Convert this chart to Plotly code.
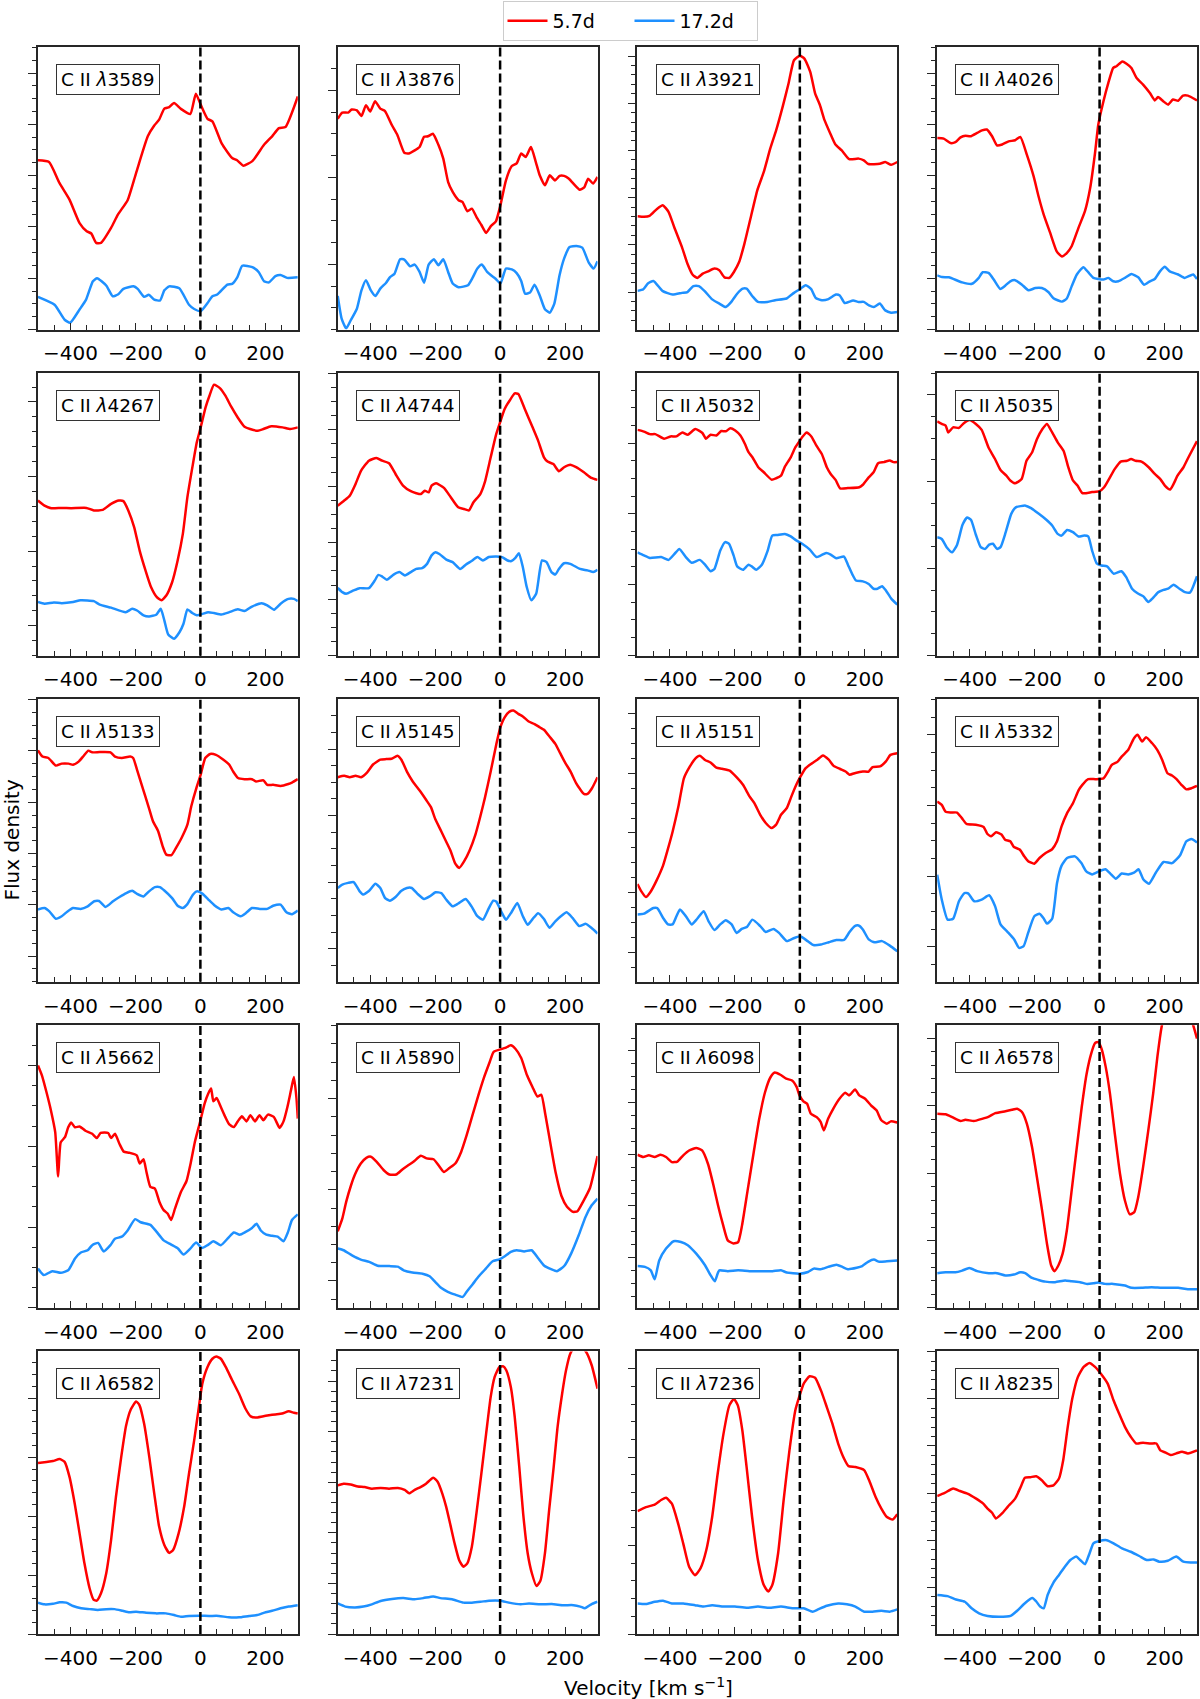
import plotly.graph_objects as go
from plotly.subplots import make_subplots

# ---------------- data (velocity km/s, normalised flux) ----------------
lines = [3589, 3876, 3921, 4026, 4267, 4744, 5032, 5035, 5133, 5145,
         5151, 5332, 5662, 5890, 6098, 6578, 6582, 7231, 7236, 8235]
epochs = ["5.7d", "17.2d"]

RED_3589 = [(-500,.599),(-466,.593),(-434,.519),(-403,.460),(-372,.377),(-350,.348),(-336,.340),(-321,.307),(-306,.307),(-275,.360),(-254,.407),(-224,.458),(-198,.554),(-162,.684),(-142,.722),(-127,.743),(-111,.782),(-96,.787),(-81,.802),(-60,.781),(-31,.763),(-14,.835),(1,.796),(22,.746),(37,.737),(66,.658),(98,.607),(113,.599),(132,.580),(160,.596),(196,.654),(221,.684),(242,.713),(262,.717),(300,.825)]
BLUE_3589 = [(-500,.116),(-449,.088),(-418,.035),(-401,.024),(-372,.071),(-352,.106),(-331,.171),(-318,.182),(-290,.156),(-270,.118),(-254,.124),(-237,.144),(-206,.153),(-193,.144),(-173,.116),(-159,.123),(-142,.106),(-124,.103),(-111,.139),(-96,.153),(-65,.146),(-35,.088),(-19,.073),(1,.065),(22,.094),(37,.118),(52,.124),(83,.159),(98,.162),(114,.186),(129,.226),(160,.221),(180,.203),(196,.171),(211,.167),(231,.189),(247,.193),(267,.183),(300,.185)]

RED_3876 = [(-500,.746),(-486,.768),(-468,.768),(-457,.779),(-441,.776),(-427,.756),(-413,.794),(-400,.772),(-385,.808),(-369,.782),(-355,.774),(-333,.723),(-316,.688),(-295,.626),(-281,.623),(-263,.634),(-248,.646),(-234,.682),(-222,.684),(-207,.693),(-190,.654),(-175,.605),(-160,.522),(-146,.487),(-128,.458),(-116,.452),(-101,.419),(-87,.428),(-73,.399),(-58,.371),(-43,.342),(-28,.367),(-13,.383),(1,.440),(18,.528),(36,.579),(51,.588),(65,.623),(79,.611),(95,.646),(110,.593),(122,.546),(138,.511),(153,.546),(169,.528),(183,.544),(197,.544),(212,.534),(230,.511),(245,.495),(259,.503),(271,.534),(286,.517),(300,.540)]
BLUE_3876 = [(-500,.119),(-488,.039),(-474,.004),(-460,.033),(-441,.074),(-427,.139),(-413,.175),(-398,.139),(-384,.119),(-369,.145),(-351,.166),(-339,.186),(-325,.198),(-308,.249),(-295,.248),(-277,.224),(-263,.230),(-248,.204),(-234,.166),(-220,.230),(-204,.249),(-190,.228),(-175,.249),(-160,.204),(-146,.163),(-128,.150),(-99,.157),(-85,.183),(-70,.216),(-56,.230),(-40,.204),(-28,.192),(-14,.180),(1,.163),(18,.216),(36,.213),(51,.200),(65,.172),(77,.127),(92,.131),(106,.159),(122,.121),(138,.072),(153,.060),(167,.092),(183,.192),(197,.251),(214,.292),(235,.296),(253,.290),(273,.237),(288,.216),(300,.242)]

RED_3921 = [(-500,.401),(-480,.399),(-463,.402),(-439,.428),(-422,.440),(-404,.416),(-387,.363),(-363,.292),(-346,.233),(-330,.194),(-316,.183),(-299,.198),(-283,.206),(-263,.216),(-248,.210),(-232,.185),(-217,.183),(-203,.204),(-187,.239),(-172,.298),(-152,.393),(-131,.493),(-111,.558),(-91,.641),(-73,.705),(-53,.788),(-35,.870),(-18,.953),(0,.969),(14,.959),(32,.912),(47,.836),(62,.794),(76,.741),(94,.693),(109,.656),(129,.634),(152,.603),(181,.605),(197,.599),(211,.586),(246,.587),(263,.593),(281,.583),(300,.593)]
BLUE_3921 = [(-500,.137),(-482,.143),(-468,.163),(-451,.172),(-422,.136),(-392,.124),(-363,.130),(-346,.133),(-328,.154),(-311,.154),(-293,.136),(-270,.107),(-248,.092),(-228,.080),(-211,.098),(-193,.127),(-176,.145),(-164,.145),(-146,.118),(-129,.098),(-100,.098),(-76,.104),(-41,.110),(-18,.130),(0,.143),(18,.157),(35,.143),(49,.112),(68,.104),(88,.108),(111,.124),(123,.121),(138,.094),(164,.103),(181,.098),(197,.098),(213,.086),(228,.080),(246,.092),(263,.068),(281,.060),(300,.062)]

RED_4026 = [(-500,.678),(-480,.676),(-459,.660),(-444,.663),(-428,.680),(-413,.686),(-398,.684),(-377,.696),(-362,.705),(-347,.708),(-331,.684),(-316,.652),(-300,.655),(-280,.666),(-260,.670),(-244,.682),(-224,.619),(-203,.542),(-188,.472),(-172,.407),(-152,.342),(-132,.277),(-116,.259),(-101,.271),(-86,.295),(-65,.360),(-45,.419),(-29,.501),(-14,.625),(-4,.725),(12,.808),(27,.873),(42,.926),(52,.932),(70,.949),(83,.941),(98,.926),(114,.890),(134,.867),(155,.837),(170,.811),(180,.823),(196,.808),(211,.796),(226,.814),(242,.810),(257,.828),(272,.828),(300,.811)]
BLUE_4026 = [(-500,.192),(-485,.186),(-464,.185),(-423,.167),(-393,.162),(-372,.183),(-360,.203),(-341,.200),(-326,.177),(-306,.144),(-290,.156),(-275,.171),(-260,.175),(-239,.159),(-219,.139),(-198,.147),(-178,.147),(-157,.132),(-142,.111),(-116,.099),(-101,.110),(-86,.153),(-70,.195),(-50,.221),(-35,.203),(-19,.183),(-4,.179),(12,.177),(27,.183),(42,.171),(58,.171),(78,.183),(98,.197),(119,.185),(137,.159),(155,.171),(170,.179),(186,.206),(201,.222),(216,.206),(242,.195),(262,.183),(288,.195),(300,.179)]

RED_4267 = [(-500,.549),(-480,.531),(-459,.522),(-427,.523),(-398,.522),(-351,.523),(-328,.514),(-301,.516),(-275,.537),(-251,.549),(-237,.547),(-222,.514),(-204,.455),(-187,.372),(-169,.302),(-152,.243),(-134,.207),(-120,.196),(-105,.213),(-87,.260),(-70,.337),(-54,.431),(-40,.561),(-23,.678),(-11,.755),(1,.808),(16,.879),(28,.920),(42,.959),(60,.947),(77,.920),(95,.881),(115,.843),(136,.810),(153,.802),(177,.796),(194,.802),(218,.812),(253,.808),(277,.802),(300,.808)]
BLUE_4267 = [(-500,.190),(-480,.184),(-451,.188),(-427,.186),(-392,.190),(-369,.196),(-328,.193),(-310,.181),(-275,.170),(-230,.154),(-210,.166),(-195,.160),(-175,.143),(-158,.139),(-136,.145),(-122,.166),(-111,.125),(-99,.075),(-81,.060),(-64,.084),(-52,.113),(-40,.164),(-25,.151),(-11,.143),(7,.148),(24,.154),(42,.151),(65,.146),(89,.154),(115,.164),(136,.158),(159,.174),(189,.186),(206,.178),(227,.163),(247,.184),(271,.201),(288,.201),(300,.193)]

RED_4744 = [(-500,.531),(-480,.549),(-463,.566),(-445,.608),(-428,.655),(-404,.690),(-381,.700),(-363,.690),(-342,.681),(-322,.643),(-299,.602),(-275,.582),(-258,.575),(-244,.572),(-232,.584),(-220,.578),(-211,.602),(-197,.610),(-173,.594),(-152,.561),(-129,.525),(-111,.519),(-96,.514),(-82,.543),(-61,.572),(-47,.614),(-29,.702),(-12,.784),(0,.826),(14,.873),(29,.902),(45,.928),(56,.926),(76,.873),(100,.808),(117,.761),(135,.702),(146,.687),(164,.678),(181,.653),(197,.667),(216,.676),(234,.667),(258,.649),(281,.629),(300,.622)]
BLUE_4744 = [(-500,.240),(-486,.225),(-474,.219),(-451,.231),(-433,.239),(-404,.239),(-386,.266),(-375,.286),(-363,.280),(-349,.269),(-328,.287),(-310,.296),(-293,.284),(-275,.296),(-258,.307),(-240,.310),(-225,.325),(-211,.355),(-199,.366),(-187,.360),(-164,.339),(-146,.331),(-123,.307),(-106,.322),(-88,.335),(-70,.349),(-53,.337),(-35,.349),(-12,.351),(6,.349),(23,.337),(35,.335),(47,.346),(58,.363),(70,.313),(82,.243),(96,.196),(111,.219),(129,.337),(143,.331),(158,.296),(170,.287),(181,.307),(197,.327),(216,.325),(246,.307),(269,.302),(287,.296),(300,.304)]

RED_5032 = [(-500,.799),(-480,.793),(-462,.784),(-445,.784),(-418,.768),(-398,.776),(-380,.776),(-362,.790),(-345,.782),(-322,.802),(-300,.788),(-289,.768),(-275,.782),(-257,.779),(-242,.795),(-228,.794),(-214,.805),(-199,.797),(-183,.779),(-169,.749),(-158,.720),(-146,.702),(-128,.667),(-111,.649),(-87,.623),(-73,.628),(-58,.637),(-46,.669),(-28,.702),(-14,.737),(1,.763),(7,.773),(21,.790),(36,.775),(51,.743),(68,.713),(83,.667),(95,.643),(110,.622),(124,.592),(148,.593),(183,.596),(194,.605),(212,.631),(227,.649),(241,.681),(259,.685),(277,.691),(288,.685),(300,.685)]
BLUE_5032 = [(-500,.366),(-480,.355),(-462,.346),(-427,.349),(-404,.339),(-386,.360),(-371,.378),(-351,.349),(-333,.329),(-308,.339),(-292,.322),(-275,.299),(-263,.307),(-245,.372),(-230,.402),(-218,.396),(-204,.355),(-193,.316),(-175,.304),(-158,.322),(-148,.316),(-134,.304),(-117,.322),(-99,.372),(-85,.425),(-70,.427),(-46,.431),(-28,.422),(-11,.408),(7,.396),(30,.376),(51,.349),(65,.355),(81,.363),(95,.358),(112,.345),(136,.351),(148,.322),(162,.287),(173,.266),(194,.263),(212,.254),(227,.237),(239,.237),(253,.246),(265,.231),(282,.201),(300,.181)]

RED_5035 = [(-500,.829),(-486,.820),(-474,.814),(-466,.790),(-451,.808),(-433,.806),(-419,.822),(-400,.834),(-381,.820),(-363,.799),(-342,.737),(-322,.696),(-305,.657),(-287,.637),(-275,.620),(-260,.610),(-240,.625),(-225,.690),(-208,.719),(-193,.766),(-176,.802),(-162,.820),(-146,.790),(-129,.755),(-111,.725),(-96,.666),(-82,.620),(-68,.602),(-53,.575),(-23,.579),(0,.582),(14,.596),(29,.625),(47,.661),(65,.687),(84,.690),(97,.696),(111,.690),(129,.687),(152,.666),(170,.643),(187,.625),(201,.602),(217,.588),(228,.608),(240,.637),(258,.666),(275,.705),(300,.759)]
BLUE_5035 = [(-500,.419),(-486,.413),(-471,.384),(-454,.366),(-439,.392),(-422,.463),(-408,.489),(-396,.481),(-381,.428),(-366,.384),(-352,.378),(-340,.393),(-328,.396),(-316,.378),(-305,.384),(-289,.437),(-272,.502),(-258,.525),(-228,.531),(-211,.522),(-187,.502),(-164,.481),(-146,.461),(-129,.431),(-117,.425),(-100,.445),(-82,.437),(-65,.422),(-47,.425),(-35,.422),(-23,.372),(-9,.327),(6,.319),(23,.316),(44,.290),(67,.299),(82,.278),(100,.237),(117,.221),(135,.210),(150,.190),(164,.204),(181,.225),(197,.233),(211,.237),(228,.251),(246,.237),(263,.225),(279,.224),(300,.281)]

RED_5133 = [(-500,.819),(-486,.797),(-468,.792),(-445,.765),(-427,.772),(-406,.772),(-392,.768),(-374,.780),(-359,.800),(-345,.818),(-333,.812),(-310,.813),(-277,.812),(-263,.797),(-242,.792),(-216,.797),(-207,.792),(-195,.750),(-179,.691),(-160,.621),(-146,.568),(-130,.533),(-116,.479),(-105,.450),(-89,.448),(-75,.474),(-58,.509),(-40,.556),(-28,.621),(-11,.691),(1,.733),(15,.792),(30,.806),(48,.803),(71,.786),(89,.768),(101,.744),(116,.721),(136,.717),(159,.717),(171,.709),(194,.713),(206,.697),(224,.697),(247,.693),(271,.700),(282,.705),(300,.717)]
BLUE_5133 = [(-500,.256),(-480,.261),(-465,.249),(-445,.223),(-427,.232),(-409,.249),(-392,.261),(-369,.258),(-347,.267),(-327,.285),(-312,.286),(-292,.265),(-269,.285),(-249,.300),(-228,.314),(-210,.322),(-195,.311),(-175,.302),(-158,.320),(-140,.335),(-125,.335),(-111,.323),(-87,.296),(-70,.269),(-55,.261),(-40,.275),(-23,.308),(-11,.320),(7,.311),(24,.292),(42,.272),(65,.256),(86,.261),(101,.246),(124,.232),(141,.244),(159,.261),(183,.258),(206,.258),(224,.269),(247,.273),(265,.246),(282,.239),(300,.252)]

RED_5145 = [(-500,.724),(-480,.729),(-463,.724),(-445,.729),(-428,.724),(-410,.740),(-392,.768),(-369,.786),(-351,.788),(-334,.789),(-316,.800),(-304,.786),(-287,.744),(-269,.709),(-246,.674),(-228,.644),(-213,.618),(-199,.574),(-181,.532),(-164,.491),(-152,.462),(-138,.418),(-126,.403),(-111,.426),(-94,.465),(-76,.521),(-61,.585),(-47,.650),(-29,.744),(-12,.839),(0,.898),(14,.936),(29,.956),(41,.960),(56,.948),(70,.939),(88,.921),(106,.912),(123,.900),(135,.892),(152,.868),(170,.842),(185,.809),(201,.774),(217,.744),(234,.703),(246,.682),(258,.665),(269,.665),(283,.685),(300,.724)]
BLUE_5145 = [(-500,.332),(-486,.344),(-468,.350),(-451,.353),(-433,.321),(-422,.309),(-404,.321),(-384,.347),(-369,.332),(-354,.296),(-340,.287),(-322,.300),(-305,.321),(-287,.332),(-272,.332),(-255,.312),(-234,.293),(-217,.302),(-199,.317),(-181,.314),(-166,.291),(-146,.267),(-129,.277),(-106,.293),(-88,.267),(-70,.232),(-53,.220),(-35,.260),(-21,.287),(-12,.284),(6,.243),(18,.220),(35,.246),(53,.279),(70,.232),(85,.202),(100,.222),(117,.243),(135,.222),(152,.191),(170,.214),(187,.232),(205,.246),(223,.226),(244,.197),(264,.205),(281,.191),(300,.171)]

RED_5151 = [(-500,.346),(-488,.320),(-474,.300),(-460,.318),(-441,.359),(-421,.412),(-406,.471),(-392,.530),(-374,.620),(-357,.720),(-339,.761),(-322,.790),(-308,.800),(-292,.785),(-275,.776),(-257,.758),(-240,.754),(-216,.747),(-195,.724),(-175,.697),(-155,.656),(-140,.632),(-122,.591),(-105,.562),(-87,.544),(-73,.556),(-58,.591),(-40,.615),(-28,.650),(-11,.697),(1,.724),(18,.756),(36,.772),(54,.786),(71,.801),(89,.786),(104,.764),(124,.753),(141,.744),(153,.733),(171,.739),(194,.744),(212,.744),(224,.760),(247,.762),(265,.780),(279,.803),(300,.809)]
BLUE_5151 = [(-500,.238),(-480,.241),(-451,.261),(-439,.261),(-421,.226),(-406,.203),(-392,.203),(-380,.232),(-369,.256),(-351,.232),(-333,.203),(-316,.223),(-296,.250),(-281,.214),(-263,.183),(-245,.203),(-228,.218),(-210,.203),(-195,.173),(-179,.187),(-163,.194),(-146,.220),(-122,.197),(-105,.176),(-81,.187),(-64,.173),(-40,.144),(-17,.155),(1,.161),(24,.144),(42,.130),(65,.132),(89,.140),(112,.148),(136,.148),(153,.176),(169,.197),(181,.199),(194,.185),(212,.150),(230,.140),(253,.144),(277,.128),(300,.108)]

RED_5332 = [(-500,.638),(-486,.626),(-474,.602),(-459,.599),(-439,.599),(-424,.579),(-410,.559),(-381,.556),(-357,.548),(-346,.524),(-334,.515),(-319,.529),(-302,.521),(-291,.503),(-275,.497),(-264,.477),(-246,.468),(-232,.444),(-220,.427),(-201,.418),(-185,.438),(-166,.456),(-146,.469),(-131,.497),(-117,.550),(-100,.597),(-82,.632),(-64,.679),(-53,.697),(-35,.717),(-12,.717),(12,.720),(26,.744),(37,.767),(56,.779),(68,.797),(88,.820),(106,.862),(117,.874),(131,.850),(143,.865),(162,.844),(178,.820),(193,.785),(209,.738),(223,.730),(237,.717),(252,.697),(267,.681),(283,.685),(300,.693)]
BLUE_5332 = [(-500,.379),(-486,.291),(-468,.220),(-451,.223),(-433,.285),(-416,.314),(-404,.312),(-386,.285),(-363,.291),(-340,.306),(-322,.268),(-305,.203),(-283,.176),(-263,.150),(-248,.120),(-234,.126),(-220,.173),(-201,.232),(-185,.241),(-173,.226),(-162,.206),(-146,.223),(-131,.350),(-117,.411),(-100,.438),(-76,.444),(-56,.420),(-41,.391),(-23,.380),(0,.392),(18,.398),(33,.383),(50,.365),(68,.383),(88,.380),(106,.386),(120,.398),(135,.362),(152,.347),(173,.386),(197,.424),(223,.420),(248,.448),(267,.497),(283,.505),(300,.493)]

RED_5662 = [(-500,.858),(-488,.823),(-474,.764),(-460,.698),(-447,.622),(-438,.465),(-430,.586),(-417,.604),(-407,.639),(-398,.656),(-386,.639),(-372,.642),(-354,.627),(-333,.616),(-319,.601),(-307,.619),(-284,.619),(-275,.601),(-263,.616),(-249,.580),(-236,.553),(-219,.549),(-196,.540),(-187,.511),(-175,.526),(-166,.481),(-154,.428),(-140,.422),(-126,.375),(-113,.346),(-101,.334),(-90,.311),(-78,.352),(-60,.410),(-43,.448),(-29,.517),(-17,.587),(-1,.658),(13,.723),(24,.758),(33,.776),(40,.731),(50,.743),(63,.711),(77,.675),(89,.649),(103,.640),(115,.660),(128,.678),(142,.660),(154,.682),(168,.660),(182,.682),(194,.664),(208,.684),(226,.676),(244,.637),(256,.660),(268,.711),(279,.770),(288,.817),(296,.741),(300,.670)]
BLUE_5662 = [(-500,.139),(-482,.116),(-456,.130),(-430,.124),(-407,.133),(-386,.175),(-368,.196),(-347,.204),(-333,.222),(-315,.230),(-298,.200),(-277,.222),(-263,.245),(-242,.252),(-224,.274),(-201,.314),(-184,.303),(-154,.294),(-136,.271),(-113,.239),(-90,.224),(-69,.210),(-52,.189),(-31,.210),(-13,.231),(5,.212),(22,.222),(40,.236),(63,.222),(86,.248),(103,.267),(121,.259),(138,.268),(159,.283),(173,.298),(186,.274),(203,.259),(221,.255),(238,.252),(256,.236),(270,.269),(282,.311),(300,.331)]

RED_5890 = [(-500,.271),(-486,.316),(-474,.375),(-459,.434),(-447,.472),(-429,.511),(-412,.531),(-398,.535),(-380,.517),(-359,.488),(-341,.472),(-320,.472),(-300,.491),(-285,.503),(-267,.517),(-244,.538),(-226,.529),(-205,.526),(-191,.507),(-173,.481),(-156,.495),(-138,.511),(-120,.552),(-103,.611),(-85,.682),(-67,.752),(-50,.814),(-32,.870),(-20,.906),(-2,.914),(16,.920),(33,.929),(47,.917),(65,.884),(83,.823),(100,.781),(115,.748),(127,.754),(139,.686),(157,.568),(171,.479),(189,.396),(206,.358),(224,.340),(238,.342),(256,.377),(277,.425),(300,.537)]
BLUE_5890 = [(-500,.210),(-482,.204),(-456,.186),(-429,.171),(-403,.163),(-377,.149),(-341,.148),(-315,.146),(-297,.133),(-270,.125),(-239,.121),(-217,.112),(-200,.092),(-182,.071),(-161,.057),(-138,.047),(-115,.039),(-103,.057),(-85,.083),(-67,.110),(-44,.139),(-23,.165),(-2,.172),(12,.181),(33,.198),(51,.204),(74,.200),(97,.204),(118,.175),(136,.149),(157,.137),(175,.130),(198,.149),(219,.193),(242,.257),(263,.322),(282,.363),(300,.387)]

RED_6098 = [(-500,.542),(-482,.534),(-465,.540),(-447,.534),(-429,.542),(-412,.534),(-394,.516),(-377,.518),(-359,.540),(-341,.557),(-319,.566),(-301,.557),(-283,.510),(-266,.434),(-252,.363),(-236,.292),(-222,.239),(-204,.228),(-190,.233),(-178,.292),(-160,.422),(-142,.551),(-125,.669),(-107,.764),(-90,.817),(-77,.833),(-60,.825),(-42,.811),(-24,.805),(-10,.782),(-1,.752),(11,.731),(22,.723),(34,.687),(52,.675),(64,.658),(74,.628),(87,.669),(104,.707),(122,.740),(140,.761),(152,.752),(170,.773),(183,.752),(201,.740),(219,.717),(236,.699),(251,.664),(268,.652),(280,.660),(300,.656)]
BLUE_6098 = [(-500,.148),(-477,.145),(-459,.133),(-447,.101),(-433,.168),(-412,.210),(-389,.236),(-366,.233),(-345,.222),(-319,.192),(-292,.151),(-275,.116),(-262,.094),(-253,.122),(-248,.133),(-222,.130),(-190,.133),(-155,.130),(-119,.130),(-84,.130),(-58,.133),(-40,.125),(-1,.121),(25,.127),(43,.139),(64,.137),(87,.145),(113,.153),(131,.145),(148,.137),(175,.142),(192,.148),(210,.163),(228,.171),(245,.163),(268,.165),(300,.168)]

RED_6578 = [(-500,.687),(-474,.685),(-454,.675),(-428,.661),(-413,.666),(-387,.661),(-362,.669),(-341,.677),(-321,.689),(-290,.696),(-270,.701),(-254,.705),(-239,.693),(-224,.652),(-208,.569),(-193,.463),(-177,.345),(-162,.227),(-149,.150),(-139,.130),(-127,.150),(-114,.191),(-101,.273),(-86,.415),(-70,.569),(-55,.710),(-40,.828),(-26,.899),(-14,.937),(-4,.941),(6,.917),(19,.852),(32,.758),(47,.616),(63,.474),(78,.380),(93,.331),(107,.339),(119,.392),(134,.498),(150,.628),(165,.758),(178,.888),(191,.994),(210,1.08),(235,1.13),(260,1.10),(283,1.02),(293,.982),(300,.953)]
BLUE_6578 = [(-500,.123),(-474,.126),(-444,.126),(-423,.132),(-401,.141),(-377,.130),(-341,.123),(-316,.123),(-290,.115),(-264,.118),(-244,.126),(-229,.123),(-208,.106),(-188,.099),(-167,.093),(-137,.091),(-106,.097),(-86,.094),(-60,.091),(-40,.085),(-19,.087),(-4,.090),(17,.085),(42,.085),(78,.079),(98,.071),(129,.071),(160,.073),(191,.071),(221,.071),(242,.071),(272,.066),(300,.066)]

RED_6582 = [(-500,.605),(-474,.609),(-454,.612),(-433,.619),(-418,.609),(-403,.556),(-387,.462),(-372,.356),(-357,.250),(-341,.161),(-329,.122),(-319,.118),(-306,.144),(-290,.214),(-275,.332),(-260,.485),(-244,.624),(-229,.736),(-214,.795),(-198,.823),(-188,.811),(-173,.743),(-157,.624),(-142,.497),(-127,.380),(-111,.315),(-96,.287),(-84,.297),(-67,.356),(-50,.450),(-35,.568),(-19,.686),(-6,.792),(6,.886),(22,.945),(37,.974),(49,.982),(63,.974),(78,.945),(98,.898),(119,.850),(139,.797),(155,.770),(170,.766),(191,.770),(211,.774),(231,.777),(252,.780),(272,.788),(288,.783),(300,.780)]
BLUE_6582 = [(-500,.111),(-480,.105),(-454,.107),(-433,.112),(-413,.111),(-392,.099),(-367,.091),(-341,.088),(-316,.085),(-290,.088),(-264,.088),(-239,.082),(-219,.077),(-198,.079),(-167,.075),(-137,.073),(-106,.073),(-81,.067),(-60,.061),(-35,.064),(-4,.065),(27,.064),(57,.064),(88,.059),(119,.059),(150,.064),(175,.067),(201,.077),(221,.082),(247,.091),(272,.097),(300,.102)]

RED_7231 = [(-500,.526),(-482,.532),(-460,.529),(-438,.522),(-417,.520),(-395,.514),(-368,.517),(-342,.514),(-315,.517),(-294,.510),(-280,.498),(-263,.510),(-245,.520),(-228,.532),(-206,.553),(-192,.538),(-178,.497),(-166,.450),(-154,.391),(-140,.320),(-126,.261),(-113,.238),(-101,.250),(-87,.309),(-73,.426),(-59,.556),(-43,.709),(-29,.839),(-17,.909),(-2,.945),(10,.947),(19,.933),(33,.874),(45,.768),(59,.591),(71,.426),(85,.285),(98,.214),(112,.170),(124,.188),(138,.285),(151,.438),(165,.591),(177,.733),(191,.850),(203,.933),(216,.992),(238,1.03),(265,.998),(282,.951),(300,.868)]
BLUE_7231 = [(-500,.108),(-477,.097),(-447,.094),(-421,.097),(-395,.105),(-368,.117),(-333,.124),(-298,.127),(-263,.123),(-236,.127),(-206,.133),(-184,.127),(-148,.123),(-113,.111),(-87,.111),(-60,.114),(-34,.118),(1,.118),(27,.111),(63,.105),(89,.108),(124,.105),(159,.106),(194,.102),(226,.102),(247,.097),(261,.091),(282,.106),(300,.114)]

RED_7236 = [(-500,.435),(-474,.449),(-447,.458),(-426,.475),(-412,.482),(-394,.461),(-376,.396),(-359,.320),(-341,.238),(-323,.208),(-306,.232),(-288,.297),(-270,.414),(-253,.567),(-235,.709),(-217,.809),(-203,.832),(-191,.809),(-177,.720),(-164,.591),(-147,.414),(-129,.261),(-111,.173),(-97,.150),(-85,.173),(-67,.285),(-50,.473),(-32,.650),(-14,.791),(-2,.839),(12,.886),(30,.912),(47,.907),(65,.862),(83,.803),(100,.745),(118,.674),(136,.621),(150,.594),(171,.591),(198,.580),(215,.539),(233,.486),(251,.444),(268,.414),(286,.405),(300,.424)]
BLUE_7236 = [(-500,.108),(-474,.106),(-447,.114),(-421,.118),(-394,.108),(-359,.108),(-323,.102),(-297,.097),(-270,.102),(-235,.097),(-200,.097),(-164,.093),(-129,.097),(-94,.093),(-58,.097),(-23,.091),(12,.091),(39,.079),(56,.087),(83,.100),(118,.108),(145,.105),(171,.097),(198,.079),(224,.079),(251,.082),(277,.079),(300,.087)]

RED_8235 = [(-500,.488),(-477,.499),(-451,.515),(-430,.506),(-407,.497),(-380,.479),(-359,.462),(-345,.444),(-331,.429),(-319,.409),(-301,.426),(-283,.450),(-260,.479),(-243,.520),(-230,.553),(-213,.555),(-195,.558),(-178,.544),(-160,.523),(-142,.526),(-125,.550),(-112,.615),(-98,.733),(-84,.833),(-67,.909),(-49,.945),(-31,.959),(-14,.945),(4,.921),(25,.886),(43,.827),(60,.780),(78,.733),(96,.698),(113,.674),(134,.677),(157,.674),(175,.674),(187,.650),(205,.641),(219,.633),(236,.639),(254,.645),(272,.639),(300,.650)]
BLUE_8235 = [(-500,.138),(-468,.134),(-442,.122),(-415,.114),(-394,.091),(-371,.073),(-345,.064),(-310,.061),(-274,.064),(-253,.083),(-230,.109),(-207,.127),(-195,.115),(-183,.097),(-172,.091),(-160,.138),(-142,.182),(-125,.209),(-107,.238),(-90,.262),(-72,.274),(-60,.262),(-45,.247),(-31,.285),(-19,.321),(-1,.329),(22,.332),(43,.321),(69,.303),(96,.291),(122,.276),(145,.262),(166,.264),(184,.256),(210,.259),(236,.274),(258,.256),(281,.253),(300,.253)]

# per-panel y tick layout: (tick0, dtick, minor divisions) in panel-height units
ytick_cfg = {
    3589: (0.0, 0.1816, 4), 3876: (0.231, 0.308, 4), 3921: (0.133, 0.167, 5),
    4026: (0.0, 0.1816, 4), 4267: (0.106, 0.264, 5), 4744: (0.0, 0.2, 4),
    5032: (0.002, 0.25, 4), 5035: (0.002, 0.307, 4), 5133: (0.091, 0.1815, 4),
    5145: (0.117, 0.2355, 4), 5151: (0.105, 0.2108, 4), 5332: (0.124, 0.25, 4),
    5662: (0.0, 0.286, 4), 5890: (0.0955, 0.3225, 5), 6098: (0.178, 0.1828, 4),
    6578: (0.0, 0.2385, 5), 6582: (0.0, 0.2085, 5), 7231: (0.179, 0.179, 5),
    7236: (0.0, 0.313, 5), 8235: (0.165, 0.1668, 5),
}

spectra = {w: (globals()["RED_%d" % w], globals()["BLUE_%d" % w]) for w in lines}

# ---------------- figure ----------------
W, H = 1200, 1699
ML, MR, MT, MB = 38, 1, 47, 65
PW, PH = W - ML - MR, H - MT - MB

RED = "#ff0000"
BLUE = "#1e90ff"
AX = "#262626"
FONT = "DejaVu Sans"

fig = make_subplots(rows=5, cols=4, horizontal_spacing=40 / PW,
                    vertical_spacing=43.5 / PH)

for i, w in enumerate(lines):
    r, c = i // 4 + 1, i % 4 + 1
    red, blue = spectra[w]
    for pts, col, name in ((red, RED, epochs[0]), (blue, BLUE, epochs[1])):
        fig.add_trace(go.Scatter(
            x=[p[0] for p in pts], y=[p[1] for p in pts], mode="lines",
            line=dict(color=col, width=2.5, shape="spline", smoothing=0.5),
            name=name, legendgroup=name,
            showlegend=(i == 0), hoverinfo="skip"), row=r, col=c)
    t0, dt, nm = ytick_cfg[w]
    fig.update_yaxes(range=[0, 1], tickmode="linear", tick0=t0, dtick=dt,
                     ticks="outside", ticklen=8, tickwidth=1.2, tickcolor=AX,
                     showticklabels=False, showgrid=False, zeroline=False,
                     showline=True, mirror=True, linecolor=AX, linewidth=1.5,
                     minor=dict(ticks="outside", ticklen=4.5, tickwidth=1,
                                tickcolor=AX, tick0=t0, dtick=dt / nm,
                                showgrid=False),
                     row=r, col=c)
    fig.update_xaxes(range=[-500, 300], tickmode="linear", tick0=0, dtick=200,
                     ticks="inside", ticklen=7, tickwidth=1.2, tickcolor=AX,
                     ticklabelstandoff=5,
                     showgrid=False, zeroline=False, showline=True, mirror=True,
                     linecolor=AX, linewidth=1.5,
                     tickfont=dict(size=20, color="black", family=FONT),
                     minor=dict(ticks="inside", ticklen=5, tickwidth=1,
                                tickcolor=AX, dtick=50, showgrid=False),
                     row=r, col=c)
    xr = "x" if i == 0 else "x%d" % (i + 1)
    yr = "y" if i == 0 else "y%d" % (i + 1)
    fig.add_shape(type="line", xref=xr, yref=yr + " domain", x0=0, x1=0,
                  y0=0, y1=1, line=dict(color="black", width=2.5, dash="9px,4px"))
    fig.add_annotation(xref=xr + " domain", yref=yr + " domain", x=0.07, y=0.94,
                       xanchor="left", yanchor="top", showarrow=False,
                       text="C II <i>λ</i>%d" % w,
                       font=dict(size=18.5, color="black", family=FONT),
                       bgcolor="white", bordercolor="#333333", borderwidth=1,
                       borderpad=4)

fig.add_annotation(xref="paper", yref="paper", x=(11 - ML) / PW, y=0.5,
                   text="Flux density", textangle=-90, showarrow=False,
                   xanchor="center", yanchor="middle",
                   font=dict(size=20, color="black", family=FONT))
fig.add_annotation(xref="paper", yref="paper", x=(650 - ML) / PW,
                   y=-(1687 - (H - MB)) / PH,
                   text="Velocity [km s<sup>−1</sup>]", showarrow=False,
                   xanchor="center", yanchor="middle",
                   font=dict(size=20, color="black", family=FONT))

fig.update_layout(
    width=W, height=H, margin=dict(l=ML, r=MR, t=MT, b=MB),
    paper_bgcolor="white", plot_bgcolor="white",
    font=dict(family=FONT, size=20, color="black"),
    legend=dict(orientation="h", xref="container", yref="container",
                x=630 / W, y=0.9995, xanchor="center", yanchor="top",
                bordercolor="#cccccc", borderwidth=1, bgcolor="white",
                font=dict(size=19, family=FONT, color="black"),
                itemwidth=40, entrywidth=72, entrywidthmode="pixels"),
)

fig.write_html("out.html")
